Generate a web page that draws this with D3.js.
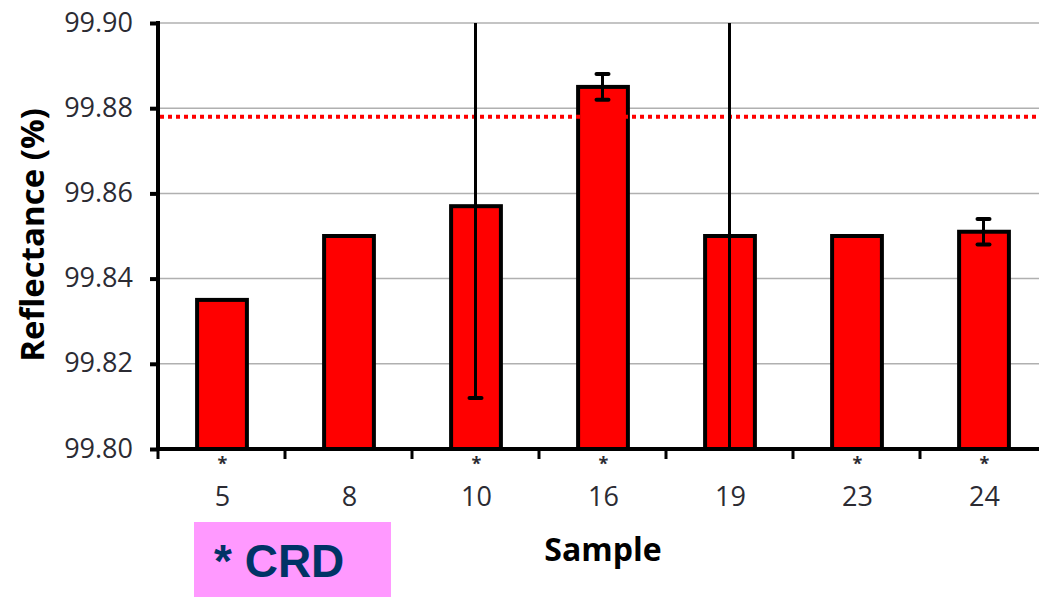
<!DOCTYPE html>
<html>
<head>
<meta charset="utf-8">
<script src="https://cdn.jsdelivr.net/npm/d3@7"></script>
<style>
  body { margin: 0; background: #fff; overflow: hidden; }
  text { font-family: "Open Sans", sans-serif; }
</style>
</head>
<body>
<script>
// sample ids, whether sample is CRD, mean reflectance and error (±)
const samples = ["5", "8", "10", "16", "19", "23", "24"];
const isCRD = [true, false, true, true, false, true, true];
const reflectance = [99.835, 99.850, 99.857, 99.885, 99.850, 99.850, 99.851];
const errors = [0, 0, 0.045, 0.003, 0.06, 0, 0.003];
const refLine = 99.878;
const yTicks = [99.80, 99.82, 99.84, 99.86, 99.88, 99.90];

const width = 1039, height = 597;
const margin = { left: 158, top: 23, right: -8, bottom: 148 };

const svg = d3.select("body").append("svg")
  .attr("width", width)
  .attr("height", height);

const x = d3.scaleBand()
  .domain(samples)
  .range([margin.left, width - margin.right])
  .paddingInner(0.6)
  .paddingOuter(0.3);

const y = d3.scaleLinear()
  .domain([99.80, 99.90])
  .range([height - margin.bottom, margin.top]);

svg.append("defs").append("clipPath").attr("id", "plot")
  .append("rect")
  .attr("x", margin.left).attr("y", margin.top)
  .attr("width", width - margin.left - margin.right)
  .attr("height", y(99.80) - y(99.90));

// grid lines
svg.append("g")
  .selectAll("line")
  .data(yTicks)
  .join("line")
  .attr("x1", margin.left).attr("x2", width)
  .attr("y1", d => y(d)).attr("y2", d => y(d))
  .attr("stroke", "#b0b0b0")
  .attr("stroke-width", 1.5);

// bars
svg.append("g")
  .selectAll("rect")
  .data(samples)
  .join("rect")
  .attr("x", d => x(d) + 1)
  .attr("width", x.bandwidth() - 1)
  .attr("y", (d, i) => y(reflectance[i]))
  .attr("height", (d, i) => y(99.80) - y(reflectance[i]))
  .attr("fill", "#ff0000")
  .attr("stroke", "#000")
  .attr("stroke-width", 4);

// reference line
svg.append("line")
  .attr("x1", margin.left + 2).attr("x2", width)
  .attr("y1", y(refLine)).attr("y2", y(refLine))
  .attr("stroke", "#ff0000")
  .attr("stroke-width", 4)
  .attr("stroke-dasharray", "4,4");

// error bars
const eg = svg.append("g").attr("clip-path", "url(#plot)");
samples.forEach((s, i) => {
  if (!errors[i]) return;
  const cx = x(s) + x.bandwidth() / 2;
  const y1 = y(reflectance[i] + errors[i]);
  const y0 = y(reflectance[i] - errors[i]);
  eg.append("line")
    .attr("x1", cx).attr("x2", cx)
    .attr("y1", y1).attr("y2", y0)
    .attr("stroke", "#000").attr("stroke-width", 3);
  [y1, y0].forEach(yy => {
    eg.append("line")
      .attr("x1", cx - 6).attr("x2", cx + 6)
      .attr("y1", yy).attr("y2", yy)
      .attr("stroke", "#000").attr("stroke-width", 4)
      .attr("stroke-linecap", "round");
  });
});

// y axis
const yAxis = svg.append("g")
  .attr("transform", `translate(${margin.left},0)`)
  .call(d3.axisLeft(y).tickValues(yTicks).tickFormat(d3.format(".2f")).tickSize(8).tickPadding(17));
yAxis.select(".domain").attr("stroke-width", 4).attr("d", `M0,${margin.top - 2}V${y(99.80) + 2}`);
yAxis.selectAll(".tick line").attr("stroke-width", 4);
yAxis.selectAll(".tick text")
  .attr("font-size", 27)
  .attr("fill", "#2b2b33")
  .attr("dy", "0.3em")
  .attr("font-family", "'Open Sans', sans-serif");

// x axis
const xBase = y(99.80);
const xa = svg.append("g");
xa.append("line")
  .attr("x1", margin.left - 2).attr("x2", width)
  .attr("y1", xBase).attr("y2", xBase)
  .attr("stroke", "#000").attr("stroke-width", 4);
xa.selectAll("line.tk")
  .data(samples.concat(["end"]))
  .join("line")
  .attr("class", "tk")
  .attr("x1", (d, i) => margin.left + i * x.step())
  .attr("x2", (d, i) => margin.left + i * x.step())
  .attr("y1", xBase).attr("y2", xBase + 10)
  .attr("stroke", "#000").attr("stroke-width", 3);

// sample id labels
xa.selectAll("text.lbl")
  .data(samples)
  .join("text")
  .attr("class", "lbl")
  .attr("x", d => x(d) + x.bandwidth() / 2 + 1)
  .attr("y", 506)
  .attr("text-anchor", "middle")
  .attr("font-size", 27)
  .attr("fill", "#2b2b33")
  .text(d => d);

// CRD markers
xa.selectAll("text.star")
  .data(samples.filter((d, i) => isCRD[i]))
  .join("text")
  .attr("class", "star")
  .attr("x", d => x(d) + x.bandwidth() / 2 + 1)
  .attr("y", 470)
  .attr("text-anchor", "middle")
  .attr("font-size", 18)
  .attr("font-weight", "bold")
  .attr("fill", "#2b2b33")
  .text("*");

// axis titles
svg.append("text")
  .attr("transform", `translate(44,235) rotate(-90)`)
  .attr("text-anchor", "middle")
  .attr("font-size", 33)
  .attr("font-weight", "bold")
  .attr("fill", "#000")
  .text("Reflectance (%)");

svg.append("text")
  .attr("x", 603).attr("y", 561)
  .attr("text-anchor", "middle")
  .attr("font-size", 32)
  .attr("font-weight", "bold")
  .attr("fill", "#000")
  .text("Sample");

// CRD legend box
svg.append("rect")
  .attr("x", 194).attr("y", 522)
  .attr("width", 197).attr("height", 75)
  .attr("fill", "#ff99ff");
svg.append("text")
  .attr("x", 214).attr("y", 577)
  .style("font-family", "'Liberation Sans', Arial, sans-serif")
  .attr("font-size", 46)
  .attr("font-weight", "bold")
  .attr("fill", "#003366")
  .text("* CRD");
</script>
</body>
</html>
